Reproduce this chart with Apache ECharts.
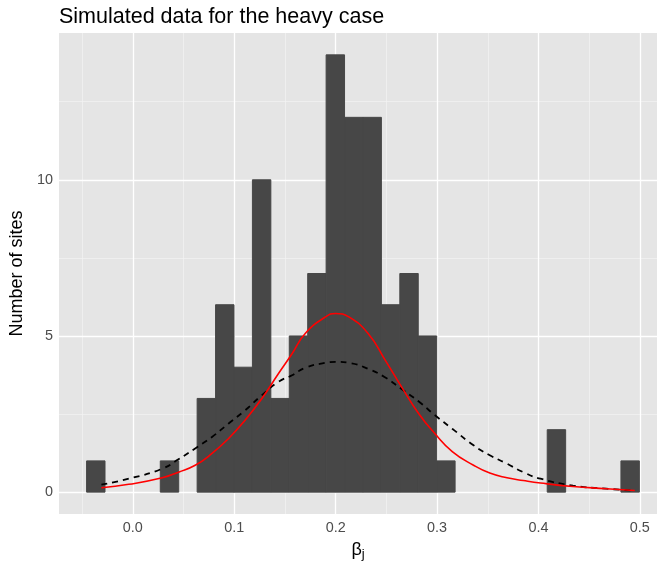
<!DOCTYPE html>
<html>
<head>
<meta charset="utf-8">
<script src="https://cdn.jsdelivr.net/npm/echarts@6/dist/echarts.min.js"></script>
<style>html,body{margin:0;padding:0;background:#fff}#c{width:657px;height:562px}</style>
</head>
<body>
<div id="c"></div>
<script>
// ---- data ----
const binStart = -0.0456;
const binWidth = 0.01817;
const counts = [1,0,0,0,1,0,3,6,4,10,3,5,7,14,12,12,6,7,5,1,0,0,0,0,0,2,0,0,0,1];
const curveX = [-0.031,-0.004,0.029,0.045,0.0615,0.0778,0.0942,0.1107,0.1271,0.1435,0.157,0.170,0.190,0.200,0.213,0.232,0.249,0.265,0.282,0.298,0.315,0.336,0.352,0.369,0.385,0.402,0.434,0.467,0.495];
const redY   = [0.14,0.25,0.46,0.64,0.86,1.23,1.71,2.30,2.99,3.79,4.43,5.08,5.61,5.72,5.61,5.08,4.22,3.37,2.51,1.87,1.30,0.86,0.61,0.46,0.37,0.29,0.18,0.11,0.05];
const blackY = [0.24,0.43,0.75,1.05,1.40,1.76,2.19,2.62,3.10,3.53,3.74,3.98,4.14,4.17,4.14,3.95,3.67,3.30,2.90,2.46,2.03,1.50,1.18,0.91,0.64,0.43,0.21,0.11,0.05];
const xTicks = [0,0.1,0.2,0.3,0.4,0.5];
const xMinor = [-0.05,0.05,0.15,0.25,0.35,0.45];
const yTicks = [0,5,10];
const yMinor = [2.5,7.5,12.5];
const titleText = 'Simulated data for the heavy case';

const barData = counts.map((c,i)=>[binStart+i*binWidth, binStart+(i+1)*binWidth, c]);
const redData = curveX.map((x,i)=>[x, redY[i]]);
const blackData = curveX.map((x,i)=>[x, blackY[i]]);

const font = "'Liberation Sans', Arial, Helvetica, sans-serif";
const chart = echarts.init(document.getElementById('c'), null, {renderer:'canvas'});

const major = {color:'#FFFFFF', width:1.3, type:'solid'};
const minor = {color:'#F4F4F4', width:0.7, type:'solid'};
const gridLines = []
  .concat(xMinor.map(v=>({xAxis:v, lineStyle:minor})))
  .concat(yMinor.map(v=>({yAxis:v, lineStyle:minor})))
  .concat(xTicks.map(v=>({xAxis:v, lineStyle:major})))
  .concat(yTicks.map(v=>({yAxis:v, lineStyle:major})));

chart.setOption({
  animation:false,
  backgroundColor:'#FFFFFF',
  title:{text:titleText, left:54, top:1, textStyle:{fontFamily:font, fontSize:21.5, fontWeight:'normal', color:'#000'}},
  grid:{left:59, right:0, top:33, bottom:48, outerBoundsMode:'none', containLabel:false,
        backgroundColor:'#E5E5E5', show:true, borderWidth:0},
  xAxis:{type:'value', min:-0.0728, max:0.5169,
    name:'{b|β}{s|j}', nameLocation:'middle', nameGap:25,
    nameTextStyle:{rich:{b:{fontFamily:font,fontSize:18,color:'#000'}, s:{fontFamily:font,fontSize:13,color:'#000',verticalAlign:'bottom',padding:[9,0,0,0]}}},
    axisLine:{show:false},
    axisTick:{show:true, customValues:xTicks, length:4, lineStyle:{color:'#333333'}},
    axisLabel:{customValues:xTicks, formatter:v=>v.toFixed(1), fontFamily:font, fontSize:14.4, color:'#4D4D4D', margin:7},
    splitLine:{show:false}},
  yAxis:{type:'value', min:-0.7, max:14.7,
    name:'Number of sites', nameLocation:'middle', nameGap:30, nameRotate:90,
    nameTextStyle:{fontFamily:font, fontSize:18, color:'#000'},
    axisLine:{show:false},
    axisTick:{show:true, customValues:yTicks, length:4, lineStyle:{color:'#333333'}},
    axisLabel:{customValues:yTicks, fontFamily:font, fontSize:14.4, color:'#4D4D4D', margin:6},
    splitLine:{show:false}},
  series:[
    {type:'line', data:[], z:1, silent:true,
      markLine:{silent:true, z:1, symbol:['none','none'], label:{show:false}, animation:false, data:gridLines}},
    {type:'custom', z:10, silent:true, data:barData, encode:{x:[0,1], y:2},
      renderItem:(params, api)=>{
        if (api.value(2) <= 0) return null;
        const p0 = api.coord([api.value(0), api.value(2)]);
        const p1 = api.coord([api.value(1), 0]);
        return {type:'rect', shape:{x:p0[0], y:p0[1], width:p1[0]-p0[0], height:p1[1]-p0[1]},
                style:{fill:'#474747', stroke:'#474747', lineWidth:1}};
      }},
    {type:'line', z:11, data:blackData, smooth:0.5, showSymbol:false, symbol:'none', silent:true,
      lineStyle:{color:'#000000', width:1.8, type:[6,5]}},
    {type:'line', z:12, data:redData, smooth:0.5, showSymbol:false, symbol:'none', silent:true,
      lineStyle:{color:'#FF0000', width:1.6}}
  ]
});
</script>
</body>
</html>
